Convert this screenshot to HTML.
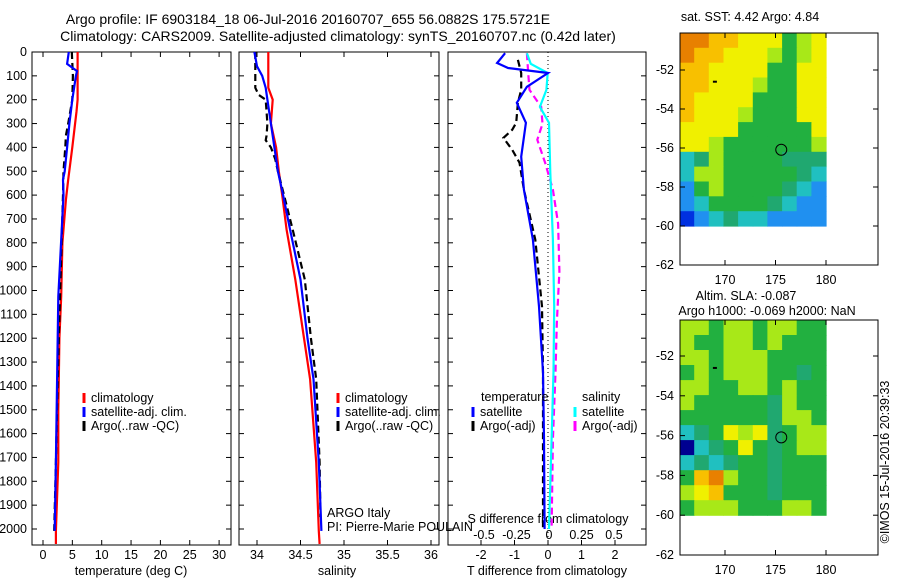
<!DOCTYPE html>
<html><head><meta charset="utf-8"><style>
html,body{margin:0;padding:0;background:#fff;}
svg{display:block;font-family:"Liberation Sans",sans-serif;}
text{font-size:12.5px;fill:#000;}
</style></head><body>
<svg id="fig" width="900" height="580" viewBox="0 0 900 580">
<text x="308" y="24" text-anchor="middle" style="font-size:14px">Argo profile: IF 6903184_18 06-Jul-2016 20160707_655 56.0882S 175.5721E</text>
<text x="338" y="41" text-anchor="middle" style="font-size:14px">Climatology: CARS2009. Satellite-adjusted climatology: synTS_20160707.nc (0.42d later)</text>
<g id="g"></g>
</svg>
<script>
// ---------- data ----------
const tClimDepth = [0,200,250,400,535,620,800,1025,1200,1372,1500,1720,2008,2063];
const tClimVal   = [5.9,5.9,5.7,5.0,4.3,3.9,3.3,3.1,2.8,2.7,2.6,2.6,2.2,2.2];
const tSatDepth  = [0,50,80,100,200,300,400,500,535,600,1025,1372,1720,2008];
const tSatVal    = [4.4,4.1,5.8,5.6,5.0,4.5,4.1,3.7,3.4,3.5,2.6,2.4,2.2,2.0];
const tArgoDepth = [0,100,200,300,350,400,500,600,1025,1372,1720,2008];
const tArgoVal   = [4.9,5.1,5.0,4.3,3.9,3.8,3.5,3.4,2.9,2.5,2.2,1.9];
const sClimDepth = [0,150,200,300,400,500,600,745,954,1200,1372,1720,2008,2063];
const sClimVal   = [34.13,34.13,34.18,34.16,34.22,34.25,34.29,34.34,34.44,34.54,34.61,34.68,34.71,34.72];
const sSatDepth  = [0,60,100,150,200,300,400,500,600,745,954,1200,1372,1720,2008];
const sSatVal    = [33.97,34.0,34.06,34.1,34.12,34.16,34.2,34.24,34.3,34.38,34.5,34.58,34.65,34.71,34.74];
const sArgoDepth = [0,150,180,200,300,350,370,400,450,500,600,745,954,1200,1372,1720,1950];
const sArgoVal   = [33.98,33.98,34.02,34.1,34.12,34.11,34.1,34.16,34.21,34.24,34.31,34.41,34.55,34.62,34.68,34.72,34.73];
const dTSatDepth = [5,46,67,88,146,213,297,439,577,787,1067,1343,1623,2000];
const dTSatVal   = [-1.28,-1.52,-1.19,0,-0.63,-0.93,-0.66,-0.8,-0.72,-0.45,-0.27,-0.15,-0.12,-0.1];
const dTArgoDepth= [33,88,159,213,297,326,360,410,464,577,787,1067,1343,2000];
const dTArgoVal  = [-0.9,-0.8,-0.8,-0.9,-0.95,-1.07,-1.33,-1.07,-0.85,-0.72,-0.38,-0.18,-0.15,-0.15];
const dSSatDepth = [5,50,88,159,230,297,506,787,1067,1343,1623,2000];
const dSSatVal   = [-0.17,-0.14,-0.01,-0.02,-0.07,0,0.01,0.03,0.04,0.035,0.02,0.0];
const dSArgoDepth= [5,88,159,230,301,368,464,577,720,920,1137,1343,1623,2000];
const dSArgoVal  = [-0.17,-0.16,-0.15,-0.06,-0.05,-0.09,-0.03,0.03,0.07,0.08,0.06,0.05,0.03,0.02];
const depthTicks = [0,100,200,300,400,500,600,700,800,900,1000,1100,1200,1300,1400,1500,1600,1700,1800,1900,2000];
const tTicks = [0,5,10,15,20,25,30];
const sTicks = [34,34.5,35,35.5,36];
const dTTicks = [-2,-1,0,1,2];
const dSTicks = [-0.5,-0.25,0,0.25,0.5];
const dSTickLabels = ["-0.5","-0.25","0","0.25","0.5"];
const latTicks = [-52,-54,-56,-58,-60,-62];
const lonTicks = [170,175,180];
const sstGrid = [
"9988777567","9887776567","8877775577","8877765577","8777755577","8777655577",
"7777555557","7765555556","3465555444","3665555543","2565555432","2355554322","1234332222"];
const slaGrid = [
"6656656655","6556656555","6656665555","5656665545","6655665655","6555554655",
"5555554665","3457674566","0345754566","3434554555","5896554555","6785554555","5666555665"];
const palette = ["#000090","#0030e0","#2090f0","#20c0c0","#20a870","#22b040","#a8e818","#f0f000","#f8c000","#e88000"];

// ---------- helpers ----------
const NS="http://www.w3.org/2000/svg";
const G=document.getElementById('g');
function mk(tag,attrs,parent){const e=document.createElementNS(NS,tag);for(const k in attrs)e.setAttribute(k,attrs[k]);(parent||G).appendChild(e);return e;}
function txt(x,y,s,anchor,parent,size){const e=mk('text',{x:x,y:y,'text-anchor':anchor||'start'},parent);if(size)e.style.fontSize=size+'px';e.textContent=s;return e;}
const yD = d => 52 + 0.2385*d;
const xT = v => 43 + 5.87*v;
const xS = v => 257 + 87*(v-34);
const xdT = v => 548 + 33.5*v;
const xdS = v => 549 + 130*v;

function panel(name,x0,x1){
  const r=mk('rect',{x:x0,y:52,width:x1-x0,height:493,fill:'none',stroke:'#000','stroke-width':1});
  
  
  depthTicks.forEach(d=>{
    mk('line',{x1:x0,x2:x0+5,y1:yD(d),y2:yD(d),stroke:'#000'});
    mk('line',{x1:x1-5,x2:x1,y1:yD(d),y2:yD(d),stroke:'#000'});
  });
}
function xticks(vals,fx,labels,withTop){
  vals.forEach((v,i)=>{
    const x=fx(v);
    mk('line',{x1:x,x2:x,y1:545,y2:540,stroke:'#000'});
    if(withTop) mk('line',{x1:x,x2:x,y1:52,y2:57,stroke:'#000'});
    const t=txt(x,559,labels?labels[i]:String(v),'middle');
    
    
  });
}
function series(name,depths,vals,fx,color,dash){
  const pts=depths.map((d,i)=>fx(vals[i]).toFixed(1)+','+yD(d).toFixed(1)).join(' ');
  const p=mk('polyline',{points:pts,fill:'none',stroke:color,'stroke-width':2.2,'stroke-dasharray':dash||'none'});
  
  
}
function legendEntry(name,x,y,color,label,dash){
  const g=mk('g',{});
  
  
  mk('line',{x1:x,x2:x,y1:y-9,y2:y+1,stroke:color,'stroke-width':3},g);
  txt(x+7,y,label,'start',g);
}

// ---------- panel 1 ----------
panel('temperature-panel',32,231);
depthTicks.forEach(d=>{const t=txt(27,yD(d)+4,String(d),'end');
  
  });
xticks(tTicks,xT,null,true);
series('temperature-climatology',tClimDepth,tClimVal,xT,'#ff0000');
series('temperature-argo',tArgoDepth,tArgoVal,xT,'#000','7,4');
series('temperature-satellite-adj',tSatDepth,tSatVal,xT,'#0000ff');
legendEntry('legend-climatology',84,402,'#ff0000','climatology');
legendEntry('legend-satellite-adj',84,416,'#0000ff','satellite-adj. clim.');
legendEntry('legend-argo',84,430,'#000','Argo(..raw -QC)');
txt(131,575,'temperature (deg C)','middle');

// ---------- panel 2 ----------
panel('salinity-panel',239,439);
xticks(sTicks,xS,null,true);
series('salinity-climatology',sClimDepth,sClimVal,xS,'#ff0000');
series('salinity-argo',sArgoDepth,sArgoVal,xS,'#000','7,4');
series('salinity-satellite-adj',sSatDepth,sSatVal,xS,'#0000ff');
legendEntry('legend-s-climatology',338,402,'#ff0000','climatology');
legendEntry('legend-s-satellite-adj',338,416,'#0000ff','satellite-adj. clim.');
legendEntry('legend-s-argo',338,430,'#000','Argo(..raw -QC)');
txt(327,517,'ARGO Italy','start');
txt(327,531,'PI: Pierre-Marie POULAIN','start');
txt(337,575,'salinity','middle');

// ---------- panel 3 ----------
panel('difference-panel',448,646);
mk('line',{x1:xdT(0),x2:xdT(0),y1:52,y2:545,stroke:'#000','stroke-dasharray':'1,3'});
xticks(dTTicks,xdT,null,false);
dSTicks.forEach((v,i)=>{const t=txt(xdS(v),539,dSTickLabels[i],'middle');
  
  });
txt(548,523,'S difference from climatology','middle');
series('s-diff-argo',dSArgoDepth,dSArgoVal,xdS,'#ff00ff','7,4');
series('s-diff-satellite',dSSatDepth,dSSatVal,xdS,'#00ffff');
series('t-diff-argo',dTArgoDepth,dTArgoVal,xdT,'#000','7,4');
series('t-diff-satellite',dTSatDepth,dTSatVal,xdT,'#0000ff');
txt(481,401,'temperature','start');
legendEntry('legend-t-satellite',473,416,'#0000ff','satellite');
legendEntry('legend-t-argo',473,430,'#000','Argo(-adj)');
txt(582,401,'salinity','start');
legendEntry('legend-s-satellite',575,416,'#00ffff','satellite');
legendEntry('legend-s-argo-adj',575,430,'#ff00ff','Argo(-adj)');
txt(547,575,'T difference from climatology','middle');

// ---------- maps ----------
function map(name,grid,top,bottom,ySc){
  const lonX = l => 725 + 10.1*(l-170);
  const latY = l => ySc(l);
  const x0=lonX(165.5), x1=lonX(180), y0=top, y1=latY(-60);
  const cols=grid[0].length, rows=grid.length;
  const cw=(x1-x0)/cols, ch=(y1-y0)/rows;
  const g=mk('g',{});
  
  
  grid.forEach((row,r)=>{
    for(let c=0;c<cols;c++){
      const cell=mk('rect',{x:(x0+c*cw).toFixed(1),y:(y0+r*ch).toFixed(1),width:(cw+0.6).toFixed(1),height:(ch+0.6).toFixed(1),fill:palette[+row[c]]},g);
      
      
    }
  });
  mk('rect',{x:680,y:top,width:198,height:bottom-top,fill:'none',stroke:'#000'},g);
  latTicks.forEach(l=>{const y=latY(l);
    mk('line',{x1:680,x2:685,y1:y,y2:y,stroke:'#000'},g);
    mk('line',{x1:873,x2:878,y1:y,y2:y,stroke:'#000'},g);
    txt(674,y+4,String(l),'end',g);});
  lonTicks.forEach(l=>{const x=lonX(l);
    mk('line',{x1:x,x2:x,y1:top,y2:top+5,stroke:'#000'},g);
    mk('line',{x1:x,x2:x,y1:bottom,y2:bottom-5,stroke:'#000'},g);
    txt(x,bottom+19,String(l),'middle',g);});
  mk('circle',{cx:lonX(175.57),cy:latY(-56.09),r:5.5,fill:'none',stroke:'#000','stroke-width':1},g);
  mk('rect',{x:lonX(169)-2,y:latY(-52.6)-1,width:4,height:2,fill:'#000'},g);
}
map('sst-map',sstGrid,33,265,l=>70+19.5*(-52-l));
txt(750,21,'sat. SST: 4.42 Argo: 4.84','middle');
map('sla-map',slaGrid,320,555,l=>356+19.9*(-52-l));
txt(746,300,'Altim. SLA: -0.087','middle');
txt(767,315,'Argo h1000: -0.069 h2000: NaN','middle');
const cr=txt(0,0,'©IMOS 15-Jul-2016 20:39:33','middle');
cr.setAttribute('transform','translate(889,462) rotate(-90)');


</script>
</body></html>
